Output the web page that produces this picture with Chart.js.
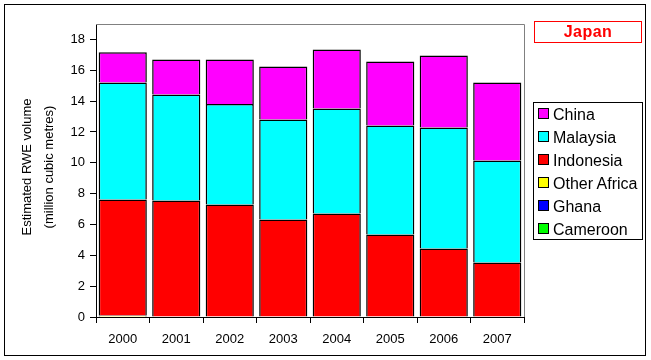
<!DOCTYPE html>
<html lang="en">
<head>
    <meta charset="UTF-8">
    <title>Japan - Estimated RWE volume</title>
    <script src="https://cdn.jsdelivr.net/npm/chart.js"></script>
    <style>
        body {
            margin: 0;
            background-color: white;
            font-family: Arial, "Liberation Sans", sans-serif;
        }
        .wrap {
            position: relative;
            width: 651px;
            height: 360px;
        }
        .frame {
            position: absolute;
            left: 4px;
            top: 4px;
            width: 640px;
            height: 350px;
            border: 1.5px solid #000;
        }
        canvas {
            position: absolute;
            left: 0;
            top: 0;
        }
        .title-box {
            position: absolute;
            left: 534px;
            top: 21px;
            width: 106px;
            height: 20px;
            border: 1px solid #ff0000;
            color: #ff0000;
            font-weight: bold;
            font-size: 16px;
            line-height: 20px;
            text-align: center;
            letter-spacing: 0.5px;
        }
        .legend {
            position: absolute;
            left: 533px;
            top: 102px;
            width: 108px;
            height: 136px;
            border: 1px solid #000;
            background: white;
        }
        .legend-item {
            position: absolute;
            left: 4px;
            height: 16px;
            font-size: 16px;
            line-height: 16px;
            white-space: nowrap;
        }
        .legend-item span.sw {
            display: inline-block;
            width: 9px;
            height: 9px;
            border: 1px solid #000;
            margin-right: 4px;
            vertical-align: 1px;
        }
    </style>
</head>
<body>
    <div class="wrap">
        <canvas id="rweChart" width="651" height="360"></canvas>
        <div class="frame"></div>
        <div class="title-box">Japan</div>
        <div class="legend" id="legend"></div>
    </div>

    <script>
        const years = ['2000', '2001', '2002', '2003', '2004', '2005', '2006', '2007'];
        // million cubic metres, stacked bottom to top
        const cameroon    = [0, 0, 0, 0, 0, 0, 0, 0];
        const ghana       = [0, 0.04, 0.04, 0, 0, 0, 0, 0];
        const otherAfrica = [0.1, 0, 0, 0, 0, 0, 0, 0];
        const indonesia   = [7.52, 7.51, 7.25, 6.32, 6.71, 5.35, 4.44, 3.53];
        const malaysia    = [7.59, 6.88, 6.53, 6.49, 6.81, 7.07, 7.85, 6.62];
        const china       = [1.95, 2.27, 2.88, 3.44, 3.83, 4.15, 4.67, 5.06];
        const yTitle = ['Estimated RWE volume', '(million cubic metres)'];

        const series = [
            { label: 'Cameroon', data: cameroon, color: '#00ff00' },
            { label: 'Ghana', data: ghana, color: '#0000ff' },
            { label: 'Other Africa', data: otherAfrica, color: '#ffff00' },
            { label: 'Indonesia', data: indonesia, color: '#ff0000' },
            { label: 'Malaysia', data: malaysia, color: '#00ffff' },
            { label: 'China', data: china, color: '#ff00ff' }
        ];

        // legend, top to bottom is reverse of stacking order
        const legend = document.getElementById('legend');
        series.slice().reverse().forEach((s, i) => {
            const item = document.createElement('div');
            item.className = 'legend-item';
            item.style.top = (4 + i * 23) + 'px';
            item.innerHTML = '<span class="sw" style="background:' + s.color + '"></span>' + s.label;
            legend.appendChild(item);
        });

        // grey plot border on top/right plus the rotated axis title
        const extras = {
            id: 'extras',
            afterDraw(chart) {
                const ctx = chart.ctx;
                const a = chart.chartArea;
                ctx.save();
                ctx.strokeStyle = '#808080';
                ctx.lineWidth = 1;
                ctx.beginPath();
                ctx.moveTo(a.left, a.top + 0.5);
                ctx.lineTo(a.right + 0.5, a.top + 0.5);
                ctx.lineTo(a.right + 0.5, a.bottom);
                ctx.stroke();

                ctx.fillStyle = '#000';
                ctx.font = '13px Arial, "Liberation Sans", sans-serif';
                ctx.textAlign = 'center';
                ctx.textBaseline = 'middle';
                ctx.translate(0, 167);
                ctx.rotate(-Math.PI / 2);
                ctx.fillText(yTitle[0], 0, 27);
                ctx.fillText(yTitle[1], 0, 49);
                ctx.restore();
            }
        };

        const ctx = document.getElementById('rweChart').getContext('2d');
        new Chart(ctx, {
            type: 'bar',
            data: {
                labels: years,
                datasets: series.map(s => ({
                    label: s.label,
                    data: s.data,
                    backgroundColor: s.color,
                    borderColor: '#000',
                    borderWidth: 1.5,
                    borderSkipped: 'start',
                    barPercentage: 0.9,
                    categoryPercentage: 1.0
                }))
            },
            options: {
                responsive: false,
                animation: false,
                devicePixelRatio: 1,
                layout: {
                    padding: { left: 0, right: 127, top: 24, bottom: 0 }
                },
                plugins: {
                    legend: { display: false },
                    tooltip: { enabled: false }
                },
                scales: {
                    x: {
                        stacked: true,
                        grid: {
                            display: true,
                            drawOnChartArea: false,
                            offset: true,
                            tickLength: 6,
                            tickColor: '#000'
                        },
                        border: { color: '#000', width: 1 },
                        ticks: {
                            color: '#000',
                            font: { family: 'Arial, "Liberation Sans", sans-serif', size: 13 },
                            padding: 9,
                            maxRotation: 0
                        },
                        afterFit(scale) { scale.height = 43; }
                    },
                    y: {
                        stacked: true,
                        min: 0,
                        max: 19,
                        grid: {
                            display: true,
                            drawOnChartArea: false,
                            tickLength: 6,
                            tickColor: '#000'
                        },
                        border: { color: '#000', width: 1 },
                        ticks: {
                            stepSize: 2,
                            color: '#000',
                            font: { family: 'Arial, "Liberation Sans", sans-serif', size: 13 },
                            padding: 5
                        },
                        afterBuildTicks(scale) {
                            scale.ticks = scale.ticks.filter(t => t.value % 2 === 0);
                        },
                        afterFit(scale) { scale.width = 96; }
                    }
                }
            },
            plugins: [extras]
        });
    </script>
</body>
</html>
